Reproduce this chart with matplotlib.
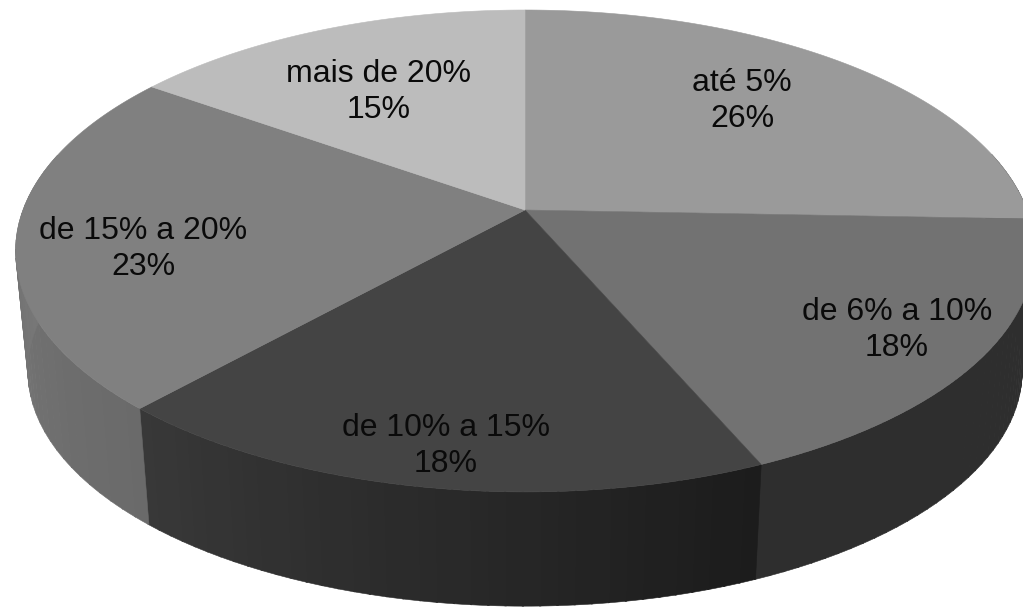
import matplotlib
matplotlib.use('Agg')
import matplotlib.pyplot as plt
import numpy as np

labels = ['até 5%', 'de 6% a 10%', 'de 10% a 15%', 'de 15% a 20%', 'mais de 20%']
values = [25.6, 17.9, 18.2, 23.1, 15.2]
top_colors = ['#9a9a9a', '#727272', '#444444', '#808080', '#bcbcbc']
side_colors = [('#2e2e2e', '#2e2e2e'), ('#2e2e2e', '#2e2e2e'), ('#1c1c1c', '#383838'),
               ('#6a6a6a', '#808080'), ('#bcbcbc', '#bcbcbc')]
label_pos = [(742, 127), (897, 356), (446, 472), (143, 275), (379, 118)]

cx, cy = 525, 210
a, b, k = 502, 234, 0.17


def project(theta, scale=1.0, dy=0.0):
    w = 1 + k * np.cos(theta)
    return cx + scale * a * np.sin(theta) / w, cy + dy - scale * b * np.cos(theta) / w


def hex_grey(c):
    return int(c[1:3], 16) / 255


plt.rcParams['font.family'] = ['Liberation Sans', 'DejaVu Sans']
fig = plt.figure(figsize=(10.23, 6.07), dpi=100)
ax = fig.add_axes([0, 0, 1, 1])
ax.set_xlim(0, 1023)
ax.set_ylim(607, 0)
ax.axis('off')

edges = np.radians(np.cumsum([0] + values) * 3.6)

# side wall, front half only
for i in range(len(values)):
    t0, t1 = edges[i], edges[i + 1]
    g0, g1 = hex_grey(side_colors[i][0]), hex_grey(side_colors[i][1])
    ts = np.linspace(t0, t1, 40)
    for j in range(len(ts) - 1):
        sub = np.linspace(ts[j], ts[j + 1] + 0.003, 3)
        if np.cos(sub[1]) > 0.25:
            continue
        x1, y1 = project(sub)
        x2, y2 = project(sub[::-1], 0.976, 121)
        g = g0 + (g1 - g0) * j / (len(ts) - 2)
        ax.fill(np.r_[x1, x2], np.r_[y1, y2], color=str(g), lw=0.4)

# top face
for i in range(len(values)):
    ts = np.linspace(edges[i], edges[i + 1], 120)
    x, y = project(ts)
    ax.fill(np.r_[cx, x], np.r_[cy, y], color=top_colors[i], lw=0.4)

for lab, val, (tx, ty) in zip(labels, values, label_pos):
    ax.text(tx, ty, '{}\n{:.0f}%'.format(lab, val), ha='center', va='baseline',
            fontsize=23, color='#0a0a0a', linespacing=1.26)

fig.savefig('out.png', dpi=100)
